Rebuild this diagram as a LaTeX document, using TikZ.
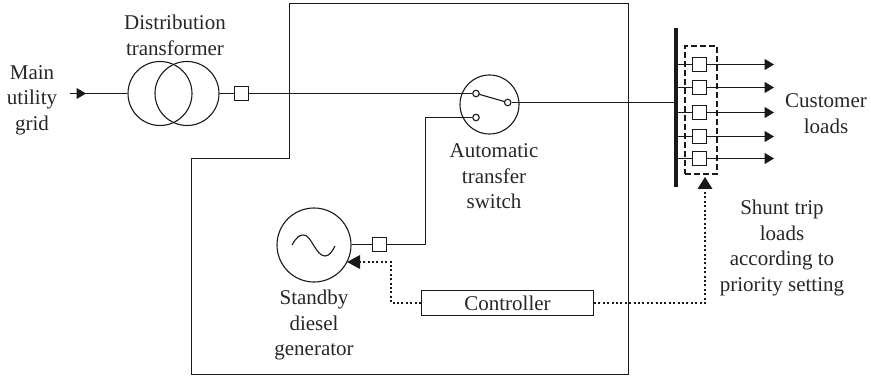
\documentclass[tikz,border=0pt]{standalone}
\usepackage{fontspec}
\setmainfont{Liberation Serif}
\usetikzlibrary{arrows.meta}
\tikzset{
  wire/.style={line width=1.1pt,draw=black!90},
  ring/.style={circle,draw=black!90,line width=1.1pt,inner sep=0pt},
  brk/.style={rectangle,draw=black!90,fill=white,line width=1.1pt,minimum width=14pt,minimum height=14pt,inner sep=0pt},
  contact/.style={circle,draw=black!90,fill=white,line width=1.1pt,minimum size=6.5pt,inner sep=0pt},
  txt/.style={align=center,font=\fontsize{21}{25.5}\selectfont,inner sep=0pt,text=black!85},
  tipwire/.style={wire,-{Triangle[length=9.5pt,width=11pt]}},
  sig/.style={line width=2pt,draw=black!90,dash pattern=on 2pt off 2.4pt},
  sigtip/.style={fill=black!90,draw=none},
}
\begin{document}
\begin{tikzpicture}[x=1pt,y=-1pt]
\useasboundingbox (0,0) rectangle (871,377);
% enclosure
\draw[wire] (289.5,3.5) -- (628.5,3.5) -- (628.5,374.5) -- (191.5,374.5) -- (191.5,158.5) -- (289.5,158.5) -- cycle;
% transformer
\node[ring,minimum size=64pt] (tl) at (160,93.5) {};
\node[ring,minimum size=64pt] (tr) at (187,93.5) {};
\coordinate (gridin) at (70,93.5);
\coordinate (gridtip) at (86,93.5);
\draw[wire] (gridin) -- (tl.west);
\draw[tipwire] (gridin) -- (gridtip);
\node[brk] (b1) at (241.5,93.5) {};
\draw[wire] (tr.east) -- (b1.west);
% transfer switch
\node[ring,minimum size=59pt] (ats) at (489.5,104.5) {};
\node[contact] (c1) at (476,93.5) {};
\node[contact] (c2) at (476,117.5) {};
\node[contact] (c3) at (507.7,102.5) {};
\draw[wire] (b1.east) -- (c1.west);
\draw[wire] (c1.center) ++(3.2,0.8) -- (504.6,101.6);
% generator
\node[ring,minimum size=74pt] (gen) at (314,245) {};
\draw[wire] (292,245) .. controls (297,236) and (300,235) .. (304,235) .. controls (311,235) and (316,256) .. (325,256) .. controls (329,256) and (332,252) .. (335,246);
\node[brk] (b2) at (379.5,244.5) {};
\draw[wire] (gen.east |- b2.west) -- (b2.west);
\draw[wire] (b2.east) -- (425.5,244.5) -- (425.5,117.5) -- (c2.west);
% bus and loads
\node[rectangle,fill=black!90,minimum width=4pt,minimum height=159pt,inner sep=0pt] (bus) at (676,107.5) {};
\draw[wire] (c3.east) -- (bus.west |- c3.east);
\foreach \n/\y in {1/64.5,2/87.5,3/112.5,4/136.5,5/158.5}{
  \node[brk] (s\n) at (699.5,\y) {};
  \coordinate (l\n) at (774,\y);
  \draw[wire] (bus.east |- s\n.west) -- (s\n.west);
  \draw[tipwire] (s\n.east) -- (l\n);
}
\node[rectangle,draw=black!90,line width=2pt,dash pattern=on 6pt off 3pt,minimum width=32pt,minimum height=128pt,inner sep=0pt] (group) at (701,110) {};
% controller
\node[rectangle,draw=black!90,line width=1.1pt,minimum width=172pt,minimum height=25pt,inner sep=0pt,font=\fontsize{21}{25}\selectfont,text=black!85] (ctrl) at (507.5,303) {Controller};
\coordinate (gbend1) at (391,303);
\coordinate (gbend2) at (391,262);
\coordinate (gtip) at (347,262);
\coordinate (lbend) at (705,303);
\coordinate (ltip) at (705,177);
\draw[sig] (ctrl.west) -- (gbend1) -- (gbend2) -- (360,262);
\fill[sigtip] (gtip) -- (360,255) -- (360,269) -- cycle;
\draw[sig] (ctrl.east) -- (lbend) -- (705,190);
\fill[sigtip] (ltip) -- (697.5,189) -- (712.5,189) -- cycle;
% labels
\node[txt] (t1) at (32,100) {Main\\utility\\grid};
\node[txt] (t2) at (175,35.5) {Distribution\\transformer};
\node[txt] (t3) at (494,176.5) {Automatic\\transfer\\switch};
\node[txt] (t4) at (314,325) {Standby\\diesel\\generator};
\node[txt] (t5) at (826,113.5) {Customer\\loads};
\node[txt] (t6) at (782,248) {Shunt trip\\loads\\according to\\priority setting};
\end{tikzpicture}
\end{document}
